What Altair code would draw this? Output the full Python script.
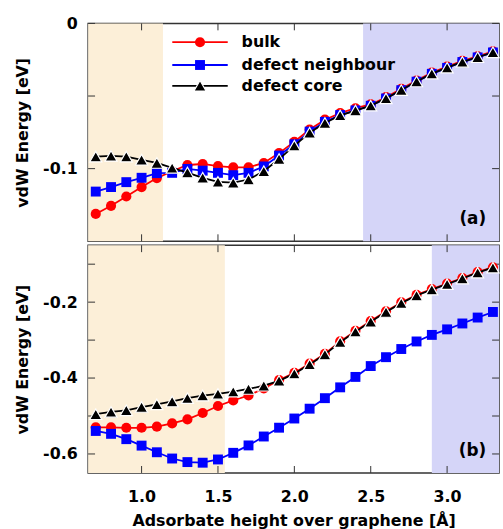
import altair as alt
import pandas as pd

# ---------------- data ----------------
heights = [0.7, 0.8, 0.9, 1.0, 1.1, 1.2, 1.3, 1.4, 1.5, 1.6, 1.7, 1.8, 1.9, 2.0,
           2.1, 2.2, 2.3, 2.4, 2.5, 2.6, 2.7, 2.8, 2.9, 3.0, 3.1, 3.2, 3.3]

series_names = ["bulk", "defect neighbour", "defect core"]

bulk_a = [-0.1312, -0.1256, -0.1192, -0.1127, -0.1065, -0.1018, -0.0975, -0.0968, -0.0982, -0.0991,
          -0.0991, -0.0961, -0.0893, -0.0815, -0.0731, -0.0663, -0.0618, -0.0584, -0.0558, -0.0508,
          -0.0451, -0.0393, -0.0339, -0.0298, -0.0258, -0.0226, -0.0193]
neigh_a = [-0.1158, -0.1127, -0.1093, -0.1063, -0.1031, -0.1029, -0.1002, -0.1014, -0.1029, -0.1045,
           -0.1029, -0.0985, -0.0910, -0.0832, -0.0745, -0.0678, -0.0631, -0.0599, -0.0567, -0.0517,
           -0.0460, -0.0401, -0.0347, -0.0306, -0.0266, -0.0234, -0.0200]
core_a = [-0.0917, -0.0912, -0.0917, -0.0939, -0.0961, -0.0995, -0.1027, -0.1063, -0.1091, -0.1097,
          -0.1075, -0.1018, -0.0934, -0.0842, -0.0753, -0.0686, -0.0633, -0.0600, -0.0566, -0.0516,
          -0.0459, -0.0400, -0.0346, -0.0305, -0.0265, -0.0233, -0.0199]

bulk_b = [-0.530, -0.530, -0.531, -0.531, -0.528, -0.5195, -0.509, -0.492, -0.4737, -0.459,
          -0.446, -0.4275, -0.4055, -0.3865, -0.362, -0.336, -0.3035, -0.2757, -0.2498, -0.224,
          -0.2008, -0.181, -0.1655, -0.151, -0.1363, -0.121, -0.108]
neigh_b = [-0.5394, -0.547, -0.561, -0.578, -0.5955, -0.612, -0.6214, -0.623, -0.6145, -0.597,
           -0.5775, -0.554, -0.5308, -0.5066, -0.4807, -0.453, -0.4245, -0.397, -0.3684, -0.345,
           -0.3235, -0.3036, -0.2863, -0.2717, -0.2562, -0.2406, -0.2259]
core_b = [-0.4953, -0.4893, -0.485, -0.4763, -0.4694, -0.4617, -0.4531, -0.4461, -0.4418, -0.4358,
          -0.4288, -0.4202, -0.4073, -0.3883, -0.364, -0.3381, -0.3054, -0.2777, -0.2518, -0.2259,
          -0.2026, -0.1826, -0.167, -0.1526, -0.1378, -0.1223, -0.1093]

x_domain = [0.65, 3.34]
x_ticks = [1.0, 1.5, 2.0, 2.5, 3.0]

y_domain_a = [-0.15, 0.0]
y_labels_a = [0.0, -0.1]
y_ticks_a = [0.0, -0.05, -0.1]

y_domain_b = [-0.65, -0.05]
y_labels_b = [-0.2, -0.4, -0.6]
y_ticks_b = [-0.1, -0.2, -0.3, -0.4, -0.5, -0.6]

# shaded bands: (start, end)
band_orange_a = [0.65, 1.14]
band_blue_a = [2.45, 3.34]
band_orange_b = [0.65, 1.545]
band_blue_b = [2.9, 3.34]

# ---------------- styles ----------------
FONT = "DejaVu Sans"
ORANGE = "#fcefd8"
BLUE = "#d5d5f8"
colors = {"bulk": "#ff0000", "defect neighbour": "#0000ff", "defect core": "#000000"}
shapes = {"bulk": "circle", "defect neighbour": "square", "defect core": "triangle-up"}
sizes = {"bulk": 105, "defect neighbour": 100, "defect core": 150}
strokes = {"bulk": None, "defect neighbour": None, "defect core": "white"}

W = 415
H_A = 220
H_B = 230
TICK = 7

xscale = alt.Scale(domain=x_domain, nice=False, zero=False)


def panel(vals, y_domain, y_labels, y_ticks, band_o, band_b, tag, height, bottom):
    yscale = alt.Scale(domain=y_domain, nice=False, zero=False)
    layers = []

    bands = pd.DataFrame({"x0": [band_o[0], band_b[0]], "x1": [band_o[1], band_b[1]],
                          "c": ["o", "b"]})
    layers.append(
        alt.Chart(bands).mark_rect().encode(
            x=alt.X("x0:Q", scale=xscale,
                    axis=alt.Axis(values=x_ticks, format=".1f", ticks=False, domain=False,
                                  grid=False, labelFont=FONT, labelFontWeight="bold",
                                  labelFontSize=16, labelColor="#000", labelPadding=16,
                                  title="Adsorbate height over graphene [Å]", titleFont=FONT,
                                  titleFontWeight="bold", titleFontSize=16, titleColor="#000",
                                  titlePadding=8) if bottom else None),
            x2="x1:Q",
            y=alt.value(0),
            y2=alt.value(height),
            color=alt.Color("c:N", scale=alt.Scale(domain=["o", "b"], range=[ORANGE, BLUE]),
                            legend=None),
        )
    )

    # inward tick marks
    xt = pd.DataFrame({"t": x_ticks})
    for y0, y1 in [(0, TICK), (height - TICK, height)]:
        layers.append(alt.Chart(xt).mark_rule(color="#333", strokeWidth=1).encode(
            x=alt.X("t:Q", scale=xscale), y=alt.value(y0), y2=alt.value(y1)))
    yt = pd.DataFrame({"t": y_ticks})
    for x0, x1 in [(0, TICK), (W - TICK, W)]:
        layers.append(alt.Chart(yt).mark_rule(color="#333", strokeWidth=1).encode(
            y=alt.Y("t:Q", scale=yscale), x=alt.value(x0), x2=alt.value(x1)))

    # y axis (labels only) via an invisible layer
    yl = pd.DataFrame({"t": y_labels})
    layers.append(alt.Chart(yl).mark_point(opacity=0).encode(
        x=alt.value(0),
        y=alt.Y("t:Q", scale=yscale,
                axis=alt.Axis(values=y_labels, ticks=False, domain=False, grid=False,
                              labelExpr="datum.value == 0 ? '0' : '-' + format(abs(datum.value), '.1f')",
                              labelFont=FONT, labelFontWeight="bold", labelFontSize=16,
                              labelColor="#000", labelPadding=11,
                              title="vdW Energy [eV]", titleFont=FONT, titleFontWeight="bold",
                              titleFontSize=16, titleColor="#000", titlePadding=12))))

    for name, v in zip(series_names, vals):
        df = pd.DataFrame({"h": heights, "e": v})
        layers.append(alt.Chart(df).mark_line(color=colors[name], strokeWidth=1.8).encode(
            x=alt.X("h:Q", scale=xscale), y=alt.Y("e:Q", scale=yscale)))
        pt_kwargs = dict(shape=shapes[name], size=sizes[name], filled=True,
                         color=colors[name], opacity=1)
        if strokes[name]:
            pt_kwargs.update(stroke=strokes[name], strokeWidth=1.2)
        layers.append(alt.Chart(df).mark_point(**pt_kwargs).encode(
            x=alt.X("h:Q", scale=xscale), y=alt.Y("e:Q", scale=yscale)))

    lab = pd.DataFrame({"t": [tag]})
    layers.append(alt.Chart(lab).mark_text(font=FONT, fontWeight="bold", fontSize=17,
                                           align="right", baseline="middle", color="#000").encode(
        text="t:N", x=alt.value(W - 13), y=alt.value(height - 22)))
    return layers


layers_a = panel([bulk_a, neigh_a, core_a], y_domain_a, y_labels_a, y_ticks_a,
                 band_orange_a, band_blue_a, "(a)", H_A, False)

# manual legend in panel (a)
leg_rows = [19, 42, 63]
for name, yy in zip(series_names, leg_rows):
    ld = pd.DataFrame({"name": [name]})
    layers_a.append(alt.Chart(ld).mark_rule(color=colors[name], strokeWidth=1.8).encode(
        x=alt.value(85), x2=alt.value(141), y=alt.value(yy)))
    pk = dict(shape=shapes[name], size=sizes[name], filled=True, color=colors[name], opacity=1)
    if strokes[name]:
        pk.update(stroke=strokes[name], strokeWidth=1.2)
    layers_a.append(alt.Chart(ld).mark_point(**pk).encode(x=alt.value(113), y=alt.value(yy)))
    layers_a.append(alt.Chart(ld).mark_text(font=FONT, fontWeight="bold", fontSize=16,
                                            align="left", baseline="middle", color="#000").encode(
        text="name:N", x=alt.value(155), y=alt.value(yy)))

layers_b = panel([bulk_b, neigh_b, core_b], y_domain_b, y_labels_b, y_ticks_b,
                 band_orange_b, band_blue_b, "(b)", H_B, True)

top = alt.layer(*layers_a).properties(width=W, height=H_A)
bot = alt.layer(*layers_b).properties(width=W, height=H_B)

chart = alt.vconcat(top, bot, spacing=0).properties(
    padding={"left": 14, "top": 12, "right": 0, "bottom": 0},
    background="white",
).configure_view(stroke="#333", strokeWidth=1.5)

chart.save("out.html", embed_options={"renderer": "svg", "actions": False})
